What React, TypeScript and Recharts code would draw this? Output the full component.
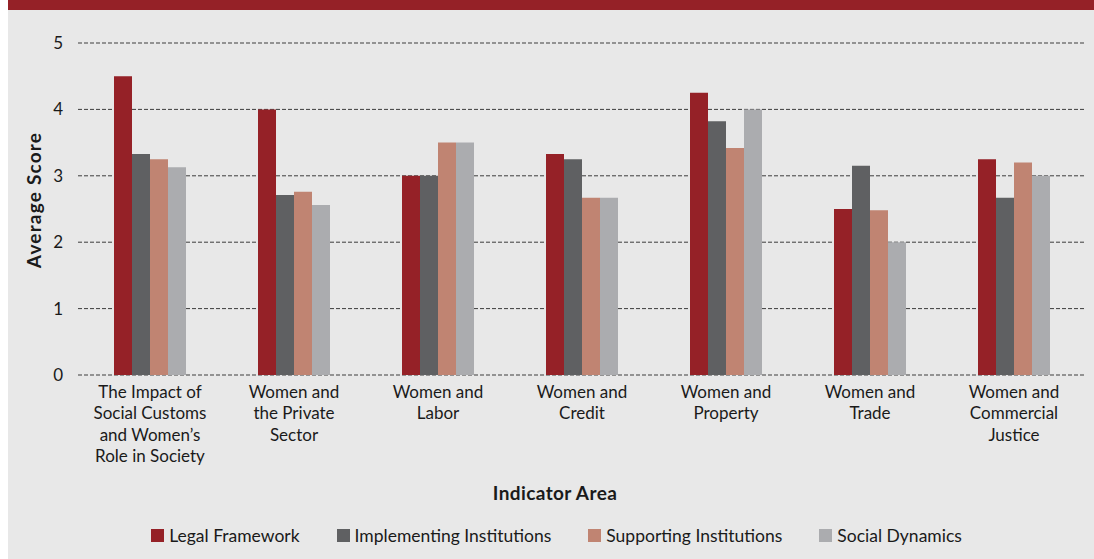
import { Bar, BarChart, CartesianGrid, Label, Legend, XAxis, YAxis } from "recharts";

const categories = [
  "The Impact of\nSocial Customs\nand Women’s\nRole in Society",
  "Women and\nthe Private\nSector",
  "Women and\nLabor",
  "Women and\nCredit",
  "Women and\nProperty",
  "Women and\nTrade",
  "Women and\nCommercial\nJustice",
];
const legalFramework = [4.5, 4.0, 3.0, 3.33, 4.25, 2.5, 3.25];
const implementingInstitutions = [3.33, 2.71, 3.0, 3.25, 3.82, 3.15, 2.67];
const supportingInstitutions = [3.25, 2.76, 3.5, 2.67, 3.42, 2.48, 3.2];
const socialDynamics = [3.13, 2.56, 3.5, 2.67, 4.0, 2.0, 3.0];
const yTicks = [0, 1, 2, 3, 4, 5];

const seriesInfo = [
  { key: "legal", name: "Legal Framework", color: "#952127" },
  { key: "implementing", name: "Implementing Institutions", color: "#5f6062" },
  { key: "supporting", name: "Supporting Institutions", color: "#c08472" },
  { key: "social", name: "Social Dynamics", color: "#abacaf" },
];

const data = categories.map((c, i) => ({
  category: c,
  legal: legalFramework[i],
  implementing: implementingInstitutions[i],
  supporting: supportingInstitutions[i],
  social: socialDynamics[i],
}));

const FONT = "Lato, 'Open Sans', sans-serif";

function CategoryTick({ x, y, payload }: any) {
  const lines = String(payload.value).split("\n");
  return (
    <text x={x} y={y} textAnchor="middle" fill="#1a1a1a" fontSize={17} fontFamily={FONT}>
      {lines.map((line, i) => (
        <tspan key={i} x={x} dy={i === 0 ? 15 : 21.3}>
          {line}
        </tspan>
      ))}
    </text>
  );
}

function LegendContent() {
  return (
    <div style={{ display: "flex", justifyContent: "center", alignItems: "center", height: 32, paddingLeft: 56, fontFamily: FONT, fontSize: 17.5, color: "#1a1a1a" }}>
      {seriesInfo.map((s) => (
        <div key={s.key} style={{ display: "flex", alignItems: "center", marginRight: 37 }}>
          <span style={{ width: 13, height: 13, background: s.color, marginRight: 5, display: "inline-block" }} />
          <span>{s.name}</span>
        </div>
      ))}
    </div>
  );
}

export default function App() {
  return (
    <div style={{ position: "absolute", left: 8, top: 0, width: 1086, height: 559, background: "#e8e8e8" }}>
      <div style={{ height: 10, background: "#952127" }} />
      <BarChart
        width={1086}
        height={549}
        data={data}
        margin={{ top: 33, right: 8, bottom: 0, left: 0 }}
        barSize={18}
        barGap={0}
        barCategoryGap="25%"
      >
        <CartesianGrid horizontal vertical={false} stroke="#3c3c3c" strokeDasharray="4 2" />
        <XAxis
          dataKey="category"
          interval={0}
          axisLine={false}
          tickLine={false}
          height={144}
          tick={<CategoryTick />}
        >
          <Label
            value="Indicator Area"
            position="insideBottom"
            offset={19}
            dx={-27}
            style={{ fontFamily: FONT, fontSize: 19, fontWeight: 700, letterSpacing: 0.4, fill: "#1a1a1a" }}
          />
        </XAxis>
        <YAxis
          width={70}
          domain={[0, 5]}
          ticks={yTicks}
          axisLine={false}
          tickLine={false}
          tickMargin={9}
          tick={{ fontSize: 17, fill: "#1a1a1a", fontFamily: FONT }}
        >
          <Label
            content={({ viewBox }: any) => {
              const cx = 25;
              const cy = viewBox.y + viewBox.height / 2 - 9;
              return (
                <text
                  x={cx}
                  y={cy}
                  transform={`rotate(-90 ${cx} ${cy})`}
                  textAnchor="middle"
                  dominantBaseline="central"
                  fontFamily={FONT}
                  fontSize={19}
                  fontWeight={700}
                  letterSpacing={1.2}
                  fill="#1a1a1a"
                >
                  Average Score
                </text>
              );
            }}
          />
        </YAxis>
        <Legend verticalAlign="bottom" height={40} content={<LegendContent />} />
        {seriesInfo.map((s) => (
          <Bar key={s.key} dataKey={s.key} name={s.name} fill={s.color} isAnimationActive={false} />
        ))}
      </BarChart>
    </div>
  );
}
